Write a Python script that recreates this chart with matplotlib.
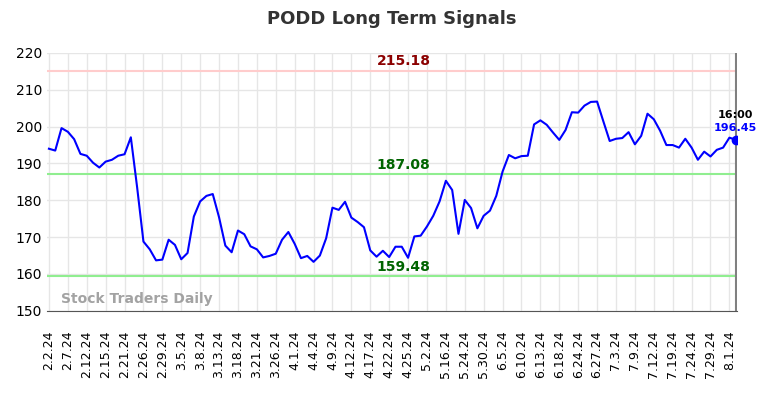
import numpy as np
import matplotlib.pyplot as plt

# closing prices, one per sample (110 samples, ticks every 3rd)
prices = [
    194.0, 193.5, 199.6, 198.6, 196.6, 192.6, 192.1, 190.2, 188.9, 190.5,
    191.0, 192.1, 192.5, 197.1, 183.5, 168.8, 166.7, 163.7, 163.9, 169.3,
    167.9, 164.0, 165.7, 175.6, 179.7, 181.2, 181.7, 175.4, 167.7, 165.9,
    171.8, 170.8, 167.5, 166.7, 164.5, 164.9, 165.5, 169.3, 171.4, 168.2,
    164.3, 164.9, 163.3, 165.0, 169.7, 178.0, 177.4, 179.6, 175.3, 174.1,
    172.7, 166.4, 164.7, 166.3, 164.6, 167.4, 167.4, 164.4, 170.2, 170.4,
    172.9, 175.8, 179.7, 185.3, 182.8, 170.9, 180.1, 177.9, 172.4, 175.8,
    177.2, 181.2, 187.8, 192.3, 191.4, 192.0, 192.1, 200.6, 201.7, 200.5,
    198.4, 196.4, 199.1, 203.9, 203.8, 205.7, 206.7, 206.8, 201.4, 196.1,
    196.7, 196.9, 198.5, 195.2, 197.5, 203.5, 202.0, 198.9, 195.0, 195.0,
    194.3, 196.7, 194.3, 191.0, 193.2, 191.9, 193.7, 194.3, 197.0, 196.45,
]
tick_labels = [
    "2.2.24", "2.7.24", "2.12.24", "2.15.24", "2.21.24", "2.26.24", "2.29.24",
    "3.5.24", "3.8.24", "3.13.24", "3.18.24", "3.21.24", "3.26.24", "4.1.24",
    "4.4.24", "4.9.24", "4.12.24", "4.17.24", "4.22.24", "4.25.24", "5.2.24",
    "5.16.24", "5.24.24", "5.30.24", "6.5.24", "6.10.24", "6.13.24", "6.18.24",
    "6.24.24", "6.27.24", "7.3.24", "7.9.24", "7.12.24", "7.19.24", "7.24.24",
    "7.29.24", "8.1.24",
]
resistance = 215.18
middle = 187.08
support = 159.48
last_time = "16:00"

x = np.arange(len(prices))
last = len(prices) - 1

fig = plt.figure(figsize=(7.84, 3.98), dpi=100)
ax = fig.add_axes([0.060, 0.219, 0.880, 0.648])

ax.plot(x, prices, color="blue", lw=1.5, zorder=3)
ax.plot(last, prices[-1], "o", color="blue", ms=6, zorder=4)

ax.axhline(resistance, color="#ffcccc", lw=1.5, zorder=2)
ax.axhline(middle, color="#90ee90", lw=1.5, zorder=2)
ax.axhline(support, color="#90ee90", lw=1.5, zorder=2)
ax.axvline(last, color="gray", lw=1.5, zorder=2)

mid = 56.3
ax.text(mid, resistance + 0.6, f"{resistance:.2f}", color="darkred",
        fontsize=10, fontweight="bold", ha="center", va="bottom")
ax.text(mid, middle + 0.6, f"{middle:.2f}", color="darkgreen",
        fontsize=10, fontweight="bold", ha="center", va="bottom")
ax.text(mid, support + 0.6, f"{support:.2f}", color="darkgreen",
        fontsize=10, fontweight="bold", ha="center", va="bottom")

ax.text(last, prices[-1] + 5.3, last_time, color="black", fontsize=8,
        fontweight="bold", ha="center", va="bottom")
ax.text(last, prices[-1] + 1.8, f"{prices[-1]:.2f}", color="blue", fontsize=8,
        fontweight="bold", ha="center", va="bottom")

ax.text(0.02, 0.03, "Stock Traders Daily", transform=ax.transAxes,
        color="#999999", fontsize=10, fontweight="bold", alpha=0.9)

ax.set_xlim(-0.3, last + 0.2)
ax.set_ylim(150, 220)
ax.set_yticks(range(150, 221, 10))
ax.set_xticks(x[::3])
ax.set_xticklabels(tick_labels, rotation=90, fontsize=9)
ax.tick_params(axis="y", labelsize=10, length=0)
ax.tick_params(axis="x", length=0, pad=14)
ax.grid(True, color="#e6e6e6", lw=1)
ax.set_axisbelow(True)
for s in ("top", "right", "left"):
    ax.spines[s].set_visible(False)
ax.spines["bottom"].set_color("#555555")

fig.suptitle("PODD Long Term Signals", x=0.5, y=0.975, fontsize=13,
             fontweight="bold", color="#333333")

fig.savefig("out.png", dpi=100)
